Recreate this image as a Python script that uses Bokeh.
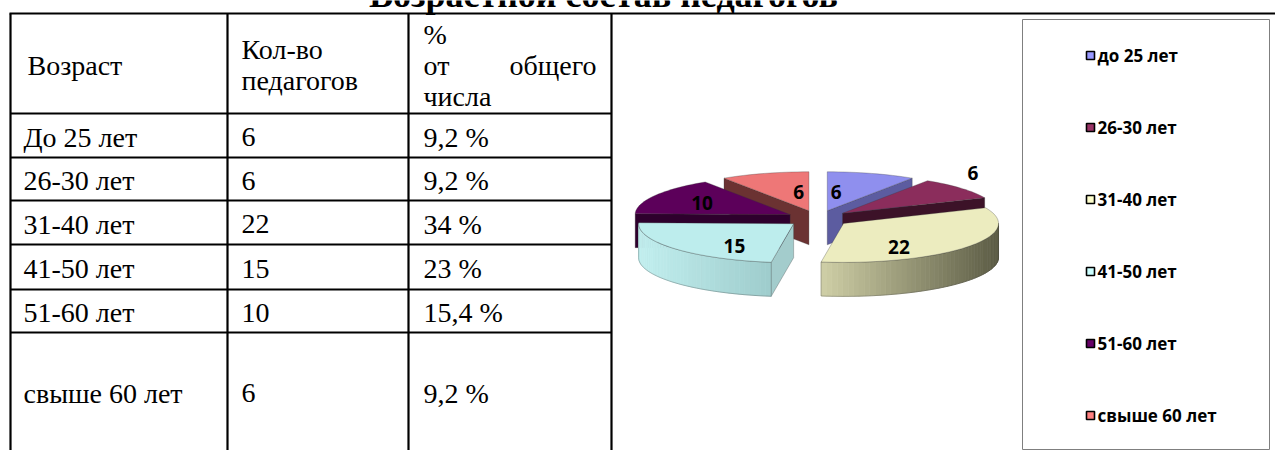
import math
from bokeh.plotting import figure
from bokeh.models import Range1d, ColumnDataSource
from bokeh.core.properties import value
from bokeh.embed import file_html
from bokeh.resources import INLINE

# ---------------- data ----------------
title = "Возрастной состав педагогов"
header_age = ["Возраст"]
header_count = ["Кол-во", "педагогов"]
header_pct = ["%", "от", "общего", "числа"]
ages_table = ["До 25 лет", "26-30 лет", "31-40 лет", "41-50 лет", "51-60 лет", "свыше 60 лет"]
counts = [6, 6, 22, 15, 10, 6]
pct_labels = ["9,2 %", "9,2 %", "34 %", "23 %", "15,4 %", "9,2 %"]
legend_labels = ["до 25 лет", "26-30 лет", "31-40 лет", "41-50 лет", "51-60 лет", "свыше 60 лет"]

# ---------------- styles / layout ----------------
W, H = 1275, 450
SERIF = value("Liberation Serif")
SANS = value("Open Sans")
COL_X = [10, 227, 408, 611]
ROW_Y = [13, 113, 157, 200, 244, 289, 332, 450]
LINE_H = 31
legend_colors = ["#9999FF", "#993366", "#FFFFCC", "#CCFFFF", "#660066", "#FF8080"]
top_colors = ["#8f8fee", "#8b2d5c", "#ececbf", "#bdeded", "#5c005a", "#ee7777"]
face_colors = ["#5c5ca0", "#3c1228", "#8a8a66", "#a3cccc", "#2e002d", "#6b3232"]
side_left = ["#6a6ab0", "#5a1a3a", "#cfcfa6", "#c2efef", "#3a0038", "#8a4040"]
side_right = ["#50508a", "#3a1026", "#5c5c45", "#9ecccc", "#2a0028", "#6b3030"]
LABEL_RX = [0.2, 1.1, 0.45, 0.5, 0.65, 0.23]
LABEL_RY = [0.5, 1.6, 1.0, 0.87, 0.63, 0.5]
CX, CY, RX, RY, EXPL, THICK = 817.6, 218.0, 155.0, 39.0, 32.0, 34.0

p = figure(width=W, height=H, x_range=Range1d(0, W), y_range=Range1d(H, 0),
           output_backend="svg", toolbar_location=None, min_border=0,
           x_axis_type=None, y_axis_type=None)
p.grid.visible = False
p.outline_line_color = None
p.background_fill_color = "white"
p.border_fill_color = "white"

# ---------------- title (cut at the top edge, as in the reference) ----------------
p.text(x=[603], y=[-6], text=[title], text_font=SERIF, text_font_size="36px",
       text_font_style="bold", text_align="center", text_baseline="middle", text_color="black")

# ---------------- table ----------------
x0s, y0s, x1s, y1s = [9], [ROW_Y[0]], [W], [ROW_Y[0]]
for cx in COL_X:
    x0s.append(cx); y0s.append(ROW_Y[0]); x1s.append(cx); y1s.append(H)
for ry in ROW_Y[1:-1]:
    x0s.append(COL_X[0]); y0s.append(ry); x1s.append(COL_X[-1]); y1s.append(ry)
p.segment(x0=x0s, y0=y0s, x1=x1s, y1=y1s, line_color="black", line_width=2.2)

FS = "28px"
def tx(xs, mids, texts, align="left"):
    p.text(x=xs, y=mids, text=texts, text_font=SERIF, text_font_size=FS,
           text_align=align, text_baseline="middle", text_color="black")

def cell_lines(row, n):
    """vertically centred middles of n text lines inside table row `row`"""
    c = (ROW_Y[row] + ROW_Y[row + 1]) / 2 + 1.5
    return [c + (k - (n - 1) / 2) * LINE_H for k in range(n)]

tx([COL_X[0] + 17], cell_lines(0, 1), header_age)
tx([COL_X[1] + 14] * 2, cell_lines(0, 2), header_count)
m3 = cell_lines(0, 3)
tx([COL_X[2] + 15] * 3, [m3[0], m3[1], m3[2]], [header_pct[0], header_pct[1], header_pct[3]])
tx([COL_X[3] - 15], [m3[1]], [header_pct[2]], align="right")

rows_m = [cell_lines(i + 1, 1)[0] for i in range(len(ages_table))]
tx([COL_X[0] + 13] * 6, rows_m, ages_table)
tx([COL_X[1] + 14] * 6, rows_m, [str(c) for c in counts])
tx([COL_X[2] + 15] * 6, rows_m, pct_labels)

# ---------------- legend ----------------
p.quad(left=[1022], right=[1269], top=[19], bottom=[449], fill_color="white",
       line_color="#7f7f7f", line_width=1)
leg_y = [55 + 72 * i for i in range(len(legend_labels))]
p.rect(x=[1090] * 6, y=leg_y, width=8, height=8, fill_color=legend_colors,
       line_color="black", line_width=1.6)
p.text(x=[1097] * 6, y=leg_y, text=legend_labels, text_font=SANS, text_font_size="17px",
       text_font_style="bold", text_baseline="middle", text_color="black")

# ---------------- 3D exploded pie ----------------
total = float(sum(counts))
spans = []
acc = 0.0
for c in counts:
    a0 = acc
    acc += 360.0 * c / total
    spans.append((a0, acc))

K = RY / RX

def pt(ax, ay, th, dz=0.0):
    r = math.radians(th)
    return ax + RX * math.sin(r), ay - RY * math.cos(r) + dz

def hexmix(c1, c2, t):
    a = [int(c1[i:i + 2], 16) for i in (1, 3, 5)]
    b = [int(c2[i:i + 2], 16) for i in (1, 3, 5)]
    return "#%02x%02x%02x" % tuple(int(round(a[j] + (b[j] - a[j]) * t)) for j in range(3))

polys = dict(xs=[], ys=[], fc=[], lc=[], la=[], lw=[])
def add(xs, ys, fc, lc, la, lw):
    polys["xs"].append(xs); polys["ys"].append(ys); polys["fc"].append(fc)
    polys["lc"].append(lc); polys["la"].append(la); polys["lw"].append(lw)

apexes = []
for (a0, a1) in spans:
    mid = math.radians((a0 + a1) / 2)
    apexes.append((CX + EXPL * math.sin(mid), CY - EXPL * K * math.cos(mid)))

order = sorted(range(len(counts)), key=lambda i: -math.cos(math.radians(sum(spans[i]) / 2)))
EDGE = "#3a3a3a"
for i in order:
    a0, a1 = spans[i]
    ax, ay = apexes[i]
    if math.sin(math.radians(a0)) < -1e-6:
        px, py = pt(ax, ay, a0)
        add([ax, px, px, ax], [ay, py, py + THICK, ay + THICK], face_colors[i], EDGE, 0.5, 0.6)
    if math.sin(math.radians(a1)) > 1e-6:
        px, py = pt(ax, ay, a1)
        add([ax, px, px, ax], [ay, py, py + THICK, ay + THICK], face_colors[i], EDGE, 0.5, 0.6)
    s0, s1 = max(a0, 90.0), min(a1, 270.0)
    if s1 > s0:
        n = max(2, int((s1 - s0) / 2))
        ths = [s0 + (s1 - s0) * k / n for k in range(n + 1)]
        xs_all = [pt(ax, ay, t)[0] for t in ths]
        xmin, xmax = min(xs_all), max(xs_all)
        for k in range(n):
            xa, ya = pt(ax, ay, ths[k]); xb, yb = pt(ax, ay, ths[k + 1])
            tt = ((xa + xb) / 2 - xmin) / max(1.0, xmax - xmin)
            col = hexmix(side_left[i], side_right[i], tt)
            add([xa, xb, xb, xa], [ya, yb, yb + THICK, ya + THICK], col, col, 1.0, 0.8)
        ox = [pt(ax, ay, t)[0] for t in ths] + [pt(ax, ay, t)[0] for t in reversed(ths)]
        oy = [pt(ax, ay, t)[1] for t in ths] + [pt(ax, ay, t, THICK)[1] for t in reversed(ths)]
        add(ox, oy, None, EDGE, 0.5, 0.6)
    n = max(3, int((a1 - a0) / 2))
    xs, ys = [ax], [ay]
    for k in range(n + 1):
        x_, y_ = pt(ax, ay, a0 + (a1 - a0) * k / n)
        xs.append(x_); ys.append(y_)
    add(xs, ys, top_colors[i], EDGE, 0.5, 0.6)

src = ColumnDataSource(data=dict(xs=polys["xs"], ys=polys["ys"],
                                 fc=["white" if c is None else c for c in polys["fc"]],
                                 fa=[0.0 if c is None else 1.0 for c in polys["fc"]],
                                 lc=polys["lc"], la=polys["la"], lw=polys["lw"]))
p.patches(xs="xs", ys="ys", fill_color="fc", fill_alpha="fa", line_color="lc",
          line_alpha="la", line_width="lw", source=src)

lx, ly = [], []
for i, (a0, a1) in enumerate(spans):
    mid = math.radians((a0 + a1) / 2)
    ax, ay = apexes[i]
    lx.append(ax + LABEL_RX[i] * RX * math.sin(mid))
    ly.append(ay - LABEL_RY[i] * RY * math.cos(mid))
p.text(x=lx, y=ly, text=[str(c) for c in counts], text_font=SANS, text_font_size="19px",
       text_font_style="bold", text_align="center", text_baseline="middle", text_color="black")

open("out.html", "w").write(file_html(p, INLINE))
